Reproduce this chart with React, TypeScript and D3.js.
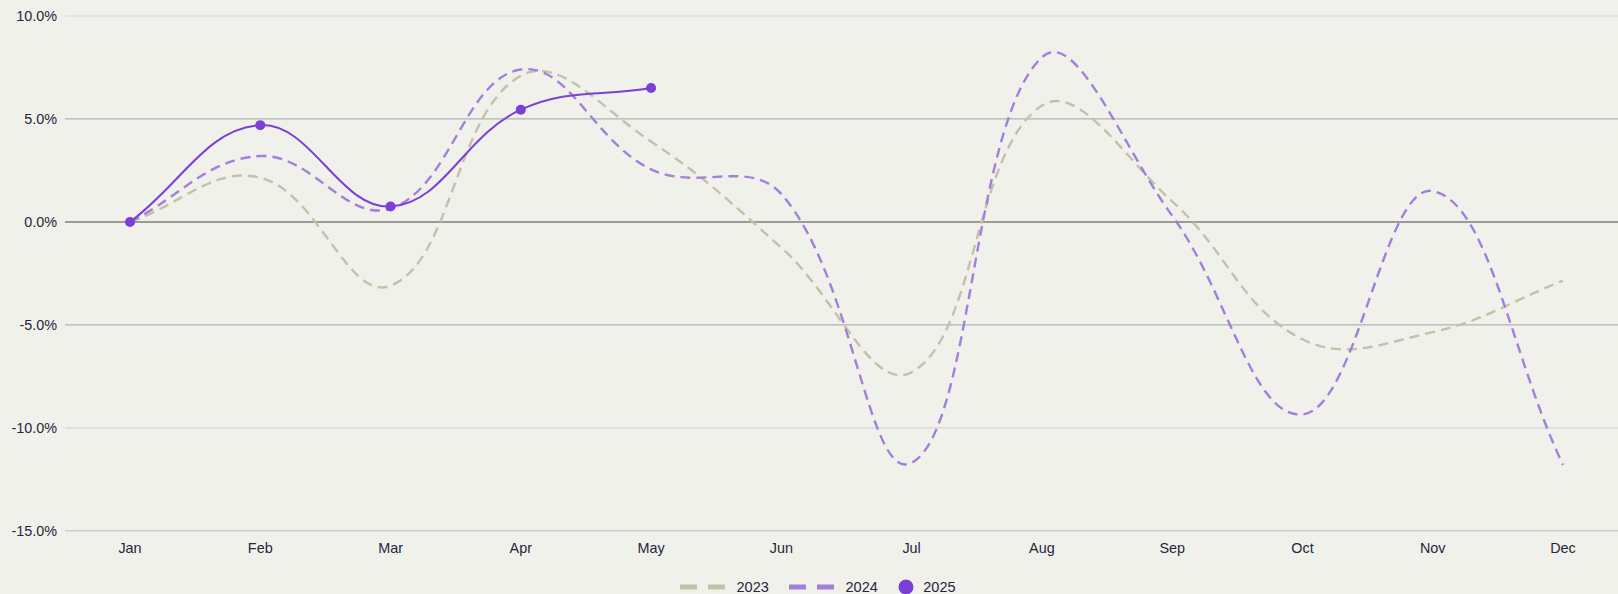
import React from "react";
import * as d3 from "d3";

const months = ["Jan", "Feb", "Mar", "Apr", "May", "Jun", "Jul", "Aug", "Sep", "Oct", "Nov", "Dec"];
const series2023 = [0, 2.15, -3.1, 7.1, 3.9, -1.25, -7.3, 5.65, 1.0, -5.7, -5.35, -2.85];
const series2024 = [0, 3.2, 0.65, 7.4, 2.55, 1.35, -11.7, 8.0, 0.3, -9.35, 1.5, -11.8];
const series2025 = [0, 4.7, 0.75, 5.45, 6.5];
const yTicks = [10, 5, 0, -5, -10, -15];
const legendLabels = ["2023", "2024", "2025"];

const W = 1618;
const H = 594;
const FONT = "'Liberation Sans', Arial, Helvetica, sans-serif";
const TEXT = "#27253a";
const BG = "#f1f1ec";
const C2023 = "#c4c1a7";
const C2024 = "#a37fdc";
const C2025 = "#7b3fd8";

const x = d3.scalePoint<string>().domain(months).range([130, 1563]);
const y = d3.scaleLinear().domain([-15, 10]).range([530.8, 16]);

function gridColor(v: number) {
  if (v === 0) return "#7d7d7a";
  if (Math.abs(v) === 5) return "#b2b2ad";
  if (v === -15) return "#c6c6c1";
  return "#d6d6d1";
}

// Chart.js-style spline (tension 0.4)
function splinePath(values: number[], tension = 0.4) {
  const pts = values.map((v, i) => [x(months[i]) as number, y(v)]);
  const n = pts.length;
  const cps: { px: number; py: number; nx: number; ny: number }[] = [];
  for (let i = 0; i < n; i++) {
    const cur = pts[i];
    const prev = i === 0 ? cur : pts[i - 1];
    const next = i === n - 1 ? cur : pts[i + 1];
    const d01 = Math.hypot(cur[0] - prev[0], cur[1] - prev[1]);
    const d12 = Math.hypot(next[0] - cur[0], next[1] - cur[1]);
    let s01 = d01 / (d01 + d12);
    let s12 = d12 / (d01 + d12);
    if (isNaN(s01)) s01 = 0;
    if (isNaN(s12)) s12 = 0;
    const fa = tension * s01;
    const fb = tension * s12;
    cps.push({
      px: cur[0] - fa * (next[0] - prev[0]),
      py: cur[1] - fa * (next[1] - prev[1]),
      nx: cur[0] + fb * (next[0] - prev[0]),
      ny: cur[1] + fb * (next[1] - prev[1]),
    });
  }
  const p = d3.path();
  p.moveTo(pts[0][0], pts[0][1]);
  for (let i = 1; i < n; i++) {
    p.bezierCurveTo(cps[i - 1].nx, cps[i - 1].ny, cps[i].px, cps[i].py, pts[i][0], pts[i][1]);
  }
  return p.toString();
}

export default function App() {
  const legendColors = [C2023, C2024, C2025];
  return (
    <svg
      width={W}
      height={H}
      style={{ position: "absolute", left: 0, top: 0, display: "block" }}
      fontFamily={FONT}
    >
      <rect x={0} y={0} width={W} height={H} fill={BG} />
      {yTicks.map((t) => (
        <g key={t}>
          <line
            x1={65}
            x2={W}
            y1={y(t)}
            y2={y(t)}
            stroke={gridColor(t)}
            strokeWidth={t === 0 ? 1.5 : 1.2}
          />
          <text x={57} y={y(t)} textAnchor="end" dominantBaseline="central" fontSize={14.4} fill={TEXT}>
            {t.toFixed(1) + "%"}
          </text>
        </g>
      ))}
      {months.map((m) => (
        <text key={m} x={x(m)} y={548} textAnchor="middle" dominantBaseline="central" fontSize={14.4} fill={TEXT}>
          {m}
        </text>
      ))}
      <path d={splinePath(series2023)} fill="none" stroke={C2023} strokeWidth={2.4} strokeDasharray="10 6" />
      <path d={splinePath(series2024)} fill="none" stroke={C2024} strokeWidth={2.4} strokeDasharray="10 6" />
      <path d={splinePath(series2025)} fill="none" stroke={C2025} strokeWidth={2} />
      {series2025.map((v, i) => (
        <circle key={i} cx={x(months[i])} cy={y(v)} r={5} fill={C2025} />
      ))}
      {legendLabels.map((lab, i) => {
        const x0 = 680 + i * 109;
        const cy = 587;
        const isDot = i === 2;
        return (
          <g key={lab}>
            {!isDot ? (
              <line
                x1={x0}
                x2={x0 + 46}
                y1={cy}
                y2={cy}
                stroke={legendColors[i]}
                strokeWidth={5}
                strokeDasharray="17 11"
              />
            ) : (
              <circle cx={x0 + 8} cy={cy} r={7.5} fill={legendColors[i]} />
            )}
            <text
              x={isDot ? x0 + 25.3 : x0 + 56.5}
              y={cy}
              dominantBaseline="central"
              fontSize={14.5}
              fill={TEXT}
            >
              {lab}
            </text>
          </g>
        );
      })}
    </svg>
  );
}
